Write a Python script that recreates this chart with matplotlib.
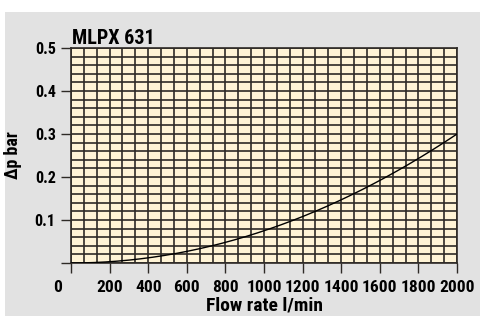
import numpy as np
import matplotlib
matplotlib.use("Agg")
import matplotlib.pyplot as plt
from matplotlib.patches import Rectangle
from matplotlib.ticker import MultipleLocator
from matplotlib.transforms import ScaledTranslation

plt.rcParams["font.family"] = ["Roboto Condensed", "PT Sans Narrow", "DejaVu Sans"]
plt.rcParams["font.weight"] = "bold"
plt.rcParams["axes.labelweight"] = "bold"

# ---------------- Data ----------------
flow = [0, 200, 400, 600, 800, 1000, 1200, 1400, 1600, 1800, 2000]
dp = [0.0, 0.003, 0.012, 0.027, 0.048, 0.075, 0.108, 0.147, 0.192, 0.243, 0.300]
x_ticks = [0, 200, 400, 600, 800, 1000, 1200, 1400, 1600, 1800, 2000]
y_ticks = [0, 0.1, 0.2, 0.3, 0.4, 0.5]
y_tick_labels = ["", "0.1", "0.2", "0.3", "0.4", "0.5"]

GRAY = "#e2e2e2"
CREAM = "#fff4d6"
GRID = "#2e2a26"

W, H = 481, 316
fig = plt.figure(figsize=(W / 100, H / 100), dpi=100, facecolor="white")
fig.patches.append(Rectangle((5 / W, 0), 1 - 5 / W, (H - 12) / H,
                             transform=fig.transFigure, facecolor=GRAY,
                             edgecolor="none", zorder=-10))

ax = fig.add_axes([71 / W, (H - 263) / H, 386 / W, 215 / H])
ax.set_facecolor(CREAM)

# smooth curve through the read points
xs = np.linspace(0, 2000, 200)
coef = np.polyfit(flow, dp, 2)
ax.plot(xs, np.polyval(coef, xs), color="black", lw=1.0, zorder=3)

ax.set_xlim(0, 2000)
ax.set_ylim(0, 0.5)
ax.set_xticks(x_ticks)
ax.set_yticks(y_ticks)
ax.set_yticklabels(y_tick_labels)
ax.xaxis.set_minor_locator(MultipleLocator(2000 / 30))
ax.yaxis.set_minor_locator(MultipleLocator(0.02))
ax.grid(True, which="both", color=GRID, lw=1.2)
ax.set_axisbelow(True)
ax.tick_params(which="minor", length=0)
ax.tick_params(which="major", length=7, width=1.0, color=GRID, pad=4)
ax.tick_params(axis="y", labelsize=11.5)
ax.tick_params(axis="x", labelsize=12.5, pad=5)
for s in ax.spines.values():
    s.set_color(GRID)
    s.set_linewidth(1.2)

# origin label sits left of the axis corner
lab0 = ax.get_xticklabels()[0]
lab0.set_transform(lab0.get_transform() + ScaledTranslation(-13 / 100, 0, fig.dpi_scale_trans))

ax.set_xlabel("Flow rate l/min", fontsize=14, labelpad=1)
ax.set_ylabel("Δp bar", fontsize=13)
ax.yaxis.set_label_coords(-0.127, 0.5)
ax.text(0.003, 1.0, "MLPX 631",
        transform=ax.transAxes + ScaledTranslation(0, 4 / 100, fig.dpi_scale_trans),
        ha="left", va="baseline", fontsize=14.5)

fig.savefig("out.png", dpi=100, facecolor="white")
